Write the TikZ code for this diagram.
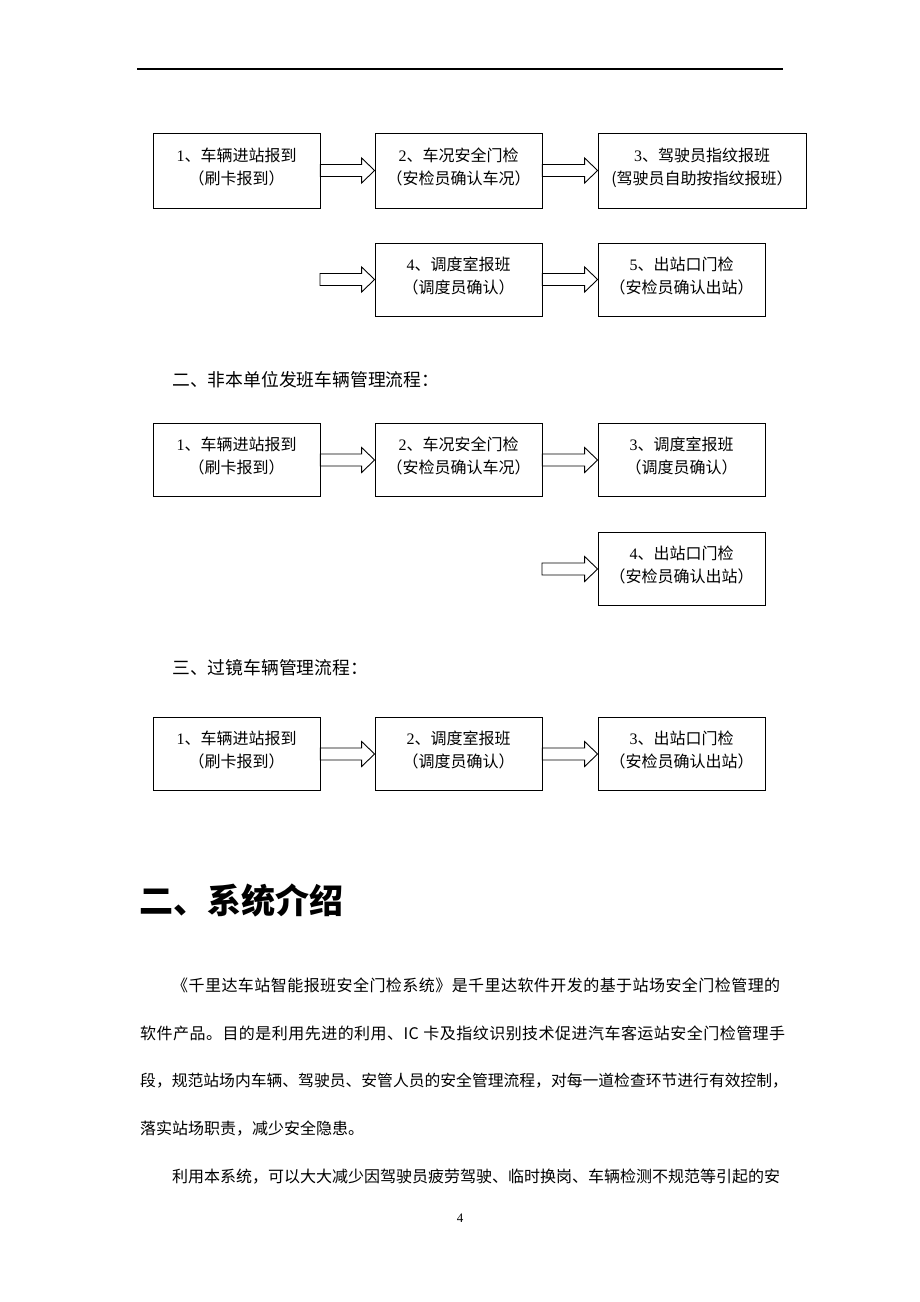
\documentclass[tikz,border=0pt]{standalone}
\usepackage{fontspec}
\setmainfont{Liberation Serif}
\newfontfamily\cjk{Noto Sans CJK SC}
\usetikzlibrary{calc}

\newcommand{\stepnum}[1]{{\rmfamily #1}}
% spread a line of characters to a given width
\newcommand{\spreadto}[2]{\hbox to #1{\spreadchar#2\relax\unskip}}
\def\spreadchar#1{\ifx\relax#1\else#1\hskip0pt plus1fil\expandafter\spreadchar\fi}
% hollow block arrow from #1 to #2
\newcommand{\blockarrow}[2]{%
  \draw[line width=0.9pt] let \p1=(#1), \p2=(#2) in
    (\x1,\y1+6pt) -- (\x2-13pt,\y1+6pt) -- (\x2-13pt,\y1+12.5pt) -- (\x2,\y1)
    -- (\x2-13pt,\y1-12.5pt) -- (\x2-13pt,\y1-6pt) -- (\x1,\y1-6pt) -- cycle;}

\begin{document}
\begin{tikzpicture}[x=1pt,y=-1pt,
  flowbox/.style={draw, line width=0.8pt, minimum width=167pt, minimum height=73pt,
    inner sep=0pt, text depth=9pt, align=center, font=\cjk\fontsize{16}{23}\selectfont},
  title/.style={anchor=west, inner sep=0pt, font=\cjk\fontsize{17.8}{18}\selectfont},
  para/.style={anchor=west, inner sep=0pt, font=\cjk\fontsize{16}{17}\selectfont}]
\useasboundingbox (0,0) rectangle (920,1302);
\draw[line width=1.3pt] (137,69) -- (783,69);

% flow one
\node[flowbox, minimum height=75pt] (a1) at (236.5,170.5) {\stepnum{1}、车辆进站报到\\（刷卡报到）};
\node[flowbox, minimum height=75pt] (a2) at (458.5,170.5) {\stepnum{2}、车况安全门检\\（安检员确认车况）};
\node[flowbox, minimum height=75pt, minimum width=208pt] (a3) at (702,170.5) {\stepnum{3}、驾驶员指纹报班\\(驾驶员自助按指纹报班）};
\node[flowbox] (a4) at (458.5,279.5) {\stepnum{4}、调度室报班\\（调度员确认）};
\node[flowbox] (a5) at (681.5,279.5) {\stepnum{5}、出站口门检\\（安检员确认出站）};
\coordinate (a4in) at (320,279.5);
\blockarrow{a1.east}{a2.west}
\blockarrow{a2.east}{a3.west}
\blockarrow{a4in}{a4.west}
\blockarrow{a4.east}{a5.west}

% flow two
\node[title] (t2) at (172,380) {二、非本单位发班车辆管理流程：};
\node[flowbox] (b1) at (236.5,460) {\stepnum{1}、车辆进站报到\\（刷卡报到）};
\node[flowbox] (b2) at (458.5,460) {\stepnum{2}、车况安全门检\\（安检员确认车况）};
\node[flowbox] (b3) at (681.5,460) {\stepnum{3}、调度室报班\\（调度员确认）};
\node[flowbox] (b4) at (681.5,569) {\stepnum{4}、出站口门检\\（安检员确认出站）};
\coordinate (b4in) at (542,569);
\blockarrow{b1.east}{b2.west}
\blockarrow{b2.east}{b3.west}
\blockarrow{b4in}{b4.west}

% flow three
\node[title] (t3) at (172,668) {三、过镜车辆管理流程：};
\node[flowbox] (c1) at (236.5,754) {\stepnum{1}、车辆进站报到\\（刷卡报到）};
\node[flowbox] (c2) at (458.5,754) {\stepnum{2}、调度室报班\\（调度员确认）};
\node[flowbox] (c3) at (681.5,754) {\stepnum{3}、出站口门检\\（安检员确认出站）};
\blockarrow{c1.east}{c2.west}
\blockarrow{c2.east}{c3.west}

% system intro
\node[anchor=west, inner sep=0pt, font=\cjk\bfseries\fontsize{34}{34}\selectfont] (head) at (139,900) {二、系统介绍};
\node[para] (p1) at (172,985) {\spreadto{608pt}{《千里达车站智能报班安全门检系统》是千里达软件开发的基于站场安全门检管理的}};
\node[para] (p2) at (140,1033) {\spreadto{645pt}{软件产品。目的是利用先进的利用、IC\ 卡及指纹识别技术促进汽车客运站安全门检管理手}};
\node[para, font=\cjk\fontsize{15.8}{17}\selectfont] (p3) at (140,1081) {\spreadto{642pt}{段，规范站场内车辆、驾驶员、安管人员的安全管理流程，对每一道检查环节进行有效控制，}};
\node[para] (p4) at (140,1129) {落实站场职责，减少安全隐患。};
\node[para] (p5) at (172,1177) {\spreadto{608pt}{利用本系统，可以大大减少因驾驶员疲劳驾驶、临时换岗、车辆检测不规范等引起的安}};
\node[font=\fontsize{13}{13}\selectfont] (pagenum) at (460,1218) {4};
\end{tikzpicture}
\end{document}
